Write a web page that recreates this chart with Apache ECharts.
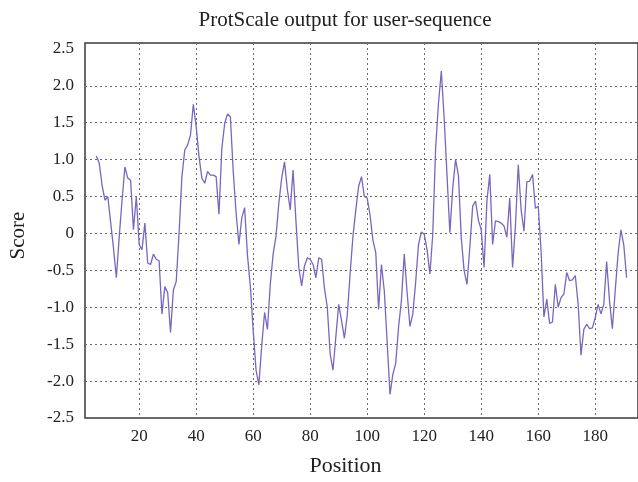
<!DOCTYPE html>
<html>
<head>
<meta charset="utf-8">
<script src="https://cdn.jsdelivr.net/npm/echarts@6/dist/echarts.min.js"></script>
<style>
html,body{margin:0;padding:0;background:#fff;}
#chart{width:638px;height:482px;}
</style>
</head>
<body>
<div id="chart"></div>
<script>
const startPosition = 5;
const scores = [
  1.05, 0.95, 0.65, 0.45, 0.50, 0.15, -0.20, -0.60, -0.05, 0.45,
  0.90, 0.75, 0.72, 0.05, 0.50, -0.15, -0.22, 0.14, -0.40, -0.42,
  -0.28, -0.35, -0.37, -1.09, -0.72, -0.80, -1.34, -0.77, -0.65, 0.00,
  0.77, 1.13, 1.20, 1.33, 1.75, 1.45, 1.04, 0.75, 0.68, 0.84,
  0.79, 0.79, 0.77, 0.26, 1.15, 1.49, 1.62, 1.58, 0.84, 0.28,
  -0.15, 0.21, 0.35, -0.30, -0.71, -1.31, -1.85, -2.05, -1.52, -1.07,
  -1.30, -0.69, -0.28, -0.04, 0.41, 0.75, 0.97, 0.59, 0.32, 0.86,
  0.17, -0.46, -0.71, -0.44, -0.33, -0.35, -0.42, -0.60, -0.33, -0.35,
  -0.74, -1.00, -1.63, -1.85, -1.40, -0.96, -1.18, -1.42, -1.11, -0.55,
  -0.04, 0.32, 0.64, 0.77, 0.50, 0.48, 0.25, -0.09, -0.26, -1.03,
  -0.42, -0.78, -1.47, -2.18, -1.91, -1.76, -1.27, -0.91, -0.28, -0.80,
  -1.26, -1.09, -0.66, -0.15, 0.02, -0.01, -0.22, -0.55, -0.01, 1.15,
  1.76, 2.20, 1.56, 0.79, 0.01, 0.61, 1.00, 0.79, -0.06, -0.50,
  -0.69, -0.19, 0.37, 0.44, 0.18, 0.05, -0.46, 0.44, 0.80, -0.15,
  0.17, 0.16, 0.14, 0.10, -0.05, 0.48, -0.46, 0.10, 0.93, 0.32,
  0.03, 0.70, 0.71, 0.80, 0.34, 0.37, -0.24, -1.13, -0.89, -1.22,
  -1.20, -0.69, -1.00, -0.87, -0.82, -0.53, -0.64, -0.63, -0.57, -0.96,
  -1.65, -1.30, -1.23, -1.29, -1.28, -1.14, -0.96, -1.09, -0.96, -0.38,
  -0.91, -1.29, -0.78, -0.28, 0.05, -0.15, -0.60
];
const xTickValues = [20, 40, 60, 80, 100, 120, 140, 160, 180];
const yGridValues = [-2, -1.5, -1, -0.5, 0, 0.5, 1, 1.5, 2];
const yLabelValues = [-2.5, -2, -1.5, -1, -0.5, 0, 0.5, 1, 1.5, 2, 2.5];

const points = scores.map((v, i) => [startPosition + i, v]);
const serif = '"Liberation Serif", "Times New Roman", serif';

const chart = echarts.init(document.getElementById('chart'), null, {renderer: 'canvas'});
chart.setOption({
  backgroundColor: '#ffffff',
  animation: false,
  title: {
    text: 'ProtScale output for user-sequence',
    left: 340, top: 5, textAlign: 'center',
    textStyle: {fontFamily: serif, fontSize: 21, fontWeight: 'normal', color: '#222'}
  },
  grid: {
    left: 83, top: 43, right: -2, bottom: 62.5,
    show: true, borderColor: '#3a3a3a', borderWidth: 1.5, backgroundColor: 'transparent'
  },
  xAxis: {
    type: 'value', min: 1, max: 195,
    name: 'Position', nameLocation: 'middle', nameGap: 37,
    nameTextStyle: {fontFamily: serif, fontSize: 22, color: '#222', padding: [0, 32, 0, 0]},
    axisLine: {show: false},
    axisTick: {show: false, customValues: xTickValues},
    axisLabel: {customValues: xTickValues, fontFamily: serif, fontSize: 17, color: '#222', margin: 10},
    splitLine: {show: true, lineStyle: {color: '#6a6a6a', width: 1, type: [2, 3]}}
  },
  yAxis: {
    type: 'value', min: -2.5, max: 2.58,
    name: 'Score', nameLocation: 'middle', nameGap: 56, nameRotate: 90,
    nameTextStyle: {fontFamily: serif, fontSize: 21, color: '#222', padding: [0, 10, 0, 0]},
    axisLine: {show: false},
    axisTick: {show: false, customValues: yGridValues},
    axisLabel: {
      customValues: yLabelValues, fontFamily: serif, fontSize: 17, color: '#222', margin: 11,
      formatter: v => (Math.abs(v) < 1e-9 ? '0' : v.toFixed(1))
    },
    splitLine: {show: true, lineStyle: {color: '#6a6a6a', width: 1, type: [2, 3]}}
  },
  series: [{
    type: 'line', data: points, showSymbol: false, symbol: 'none',
    lineStyle: {color: '#7a65bf', width: 1.3},
    clip: true
  }]
});
</script>
</body>
</html>
